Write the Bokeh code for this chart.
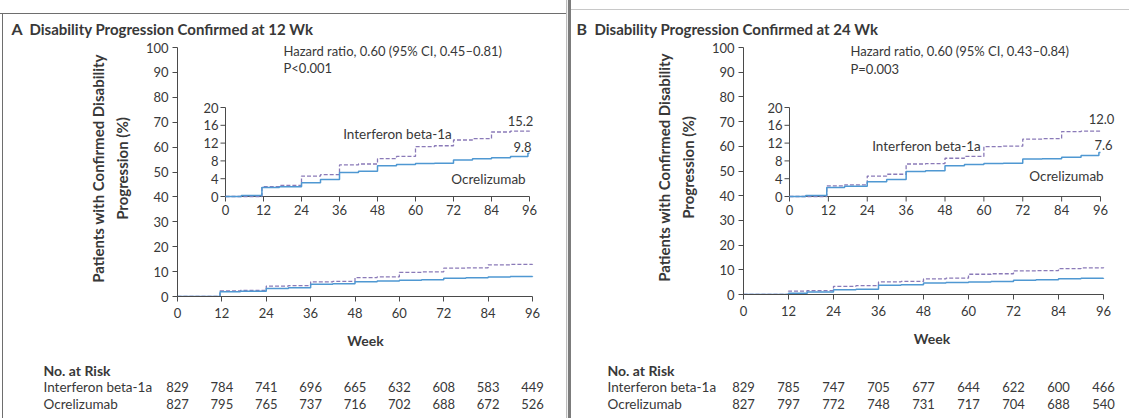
from bokeh.plotting import figure
from bokeh.models import Range1d, FixedTicker, Label, Div
from bokeh.layouts import row, column
from bokeh.embed import file_html
from bokeh.resources import INLINE

# ---------------- data ----------------
WEEK_TICKS = [0, 12, 24, 36, 48, 60, 72, 84, 96]
MAIN_Y_TICKS = [0, 10, 20, 30, 40, 50, 60, 70, 80, 90, 100]
INSET_Y_TICKS = [0, 4, 8, 12, 16, 20]

# Panel A, main plot (percent)
a_main_t = [0, 11.5, 17, 24, 30, 36, 42, 48, 54, 60, 66, 72, 78, 84, 90, 96]
a_main_ifn = [0, 2.2, 2.4, 4.2, 4.4, 5.9, 6.1, 7.6, 7.9, 9.7, 9.9, 11.4, 11.5, 12.7, 12.9, 13.0]
a_main_ocr = [0, 1.9, 2.1, 3.2, 3.5, 4.9, 5.1, 5.9, 6.2, 6.5, 6.7, 7.3, 7.5, 7.8, 8.0, 8.1]

# Panel B, main plot (percent)
b_main_t = [0, 12, 17, 24, 30, 36, 42, 48, 54, 60, 66, 72, 78, 84, 90, 96]
b_main_ifn = [0, 1.4, 1.6, 3.3, 3.6, 5.1, 5.3, 6.3, 6.6, 8.2, 8.4, 9.6, 9.7, 10.5, 10.8, 11.0]
b_main_ocr = [0, 0.5, 1.0, 1.9, 2.1, 3.7, 3.9, 4.7, 4.9, 5.1, 5.3, 5.8, 6.0, 6.4, 6.6, 6.7]

# Insets (0-20 %)
inset_ifn_t = [0, 11.5, 17, 24, 30, 36, 42, 48, 54, 60, 66, 72, 78, 84, 90, 96]
a_inset_ifn = [0, 2.2, 2.5, 4.6, 4.9, 7.1, 7.3, 8.5, 9.0, 11.2, 11.4, 12.7, 13.0, 14.5, 14.7, 14.8]
b_inset_ifn = [0, 2.4, 2.6, 4.6, 5.0, 7.3, 7.4, 8.6, 9.0, 11.2, 11.3, 12.9, 13.0, 14.6, 14.7, 14.8]
inset_ocr_t = [0, 5, 11.5, 17, 24, 30, 36, 42, 48, 54, 60, 66, 72, 78, 84, 90, 95.5, 96]
a_inset_ocr = [0, 0.2, 2.0, 2.2, 3.1, 3.8, 5.4, 5.7, 6.9, 7.2, 7.4, 7.5, 8.2, 8.5, 8.7, 9.0, 9.7, 9.7]
b_inset_ocr = [0, 0.2, 2.0, 2.3, 3.3, 3.8, 5.6, 5.8, 6.9, 7.2, 7.4, 7.5, 8.4, 8.5, 8.8, 9.2, 9.9, 9.9]

# No. at risk
a_risk_ifn = [829, 784, 741, 696, 665, 632, 608, 583, 449]
a_risk_ocr = [827, 795, 765, 737, 716, 702, 688, 672, 526]
b_risk_ifn = [829, 785, 747, 705, 677, 644, 622, 600, 466]
b_risk_ocr = [827, 797, 772, 748, 731, 717, 704, 688, 540]

a_final = ["15.2", "9.8"]
b_final = ["12.0", "7.6"]

FONT = "Lato"
TXT = "#383838"
AX = "#4a4a4a"
IFN_COLOR = "#8a7ab8"
OCR_COLOR = "#4f98d2"
FS = "13px"       # numbers / tick labels
FS_TXT = "13.5px"  # regular words


def bare_fig(W, H, xr, yr):
    f = figure(width=W, height=H, output_backend="svg", toolbar_location=None,
               x_range=xr, y_range=yr, x_axis_type=None, y_axis_type=None,
               min_border=0, min_border_left=0, min_border_right=0,
               min_border_top=0, min_border_bottom=0, frame_align=False)
    f.outline_line_color = None
    f.xgrid.visible = False
    f.ygrid.visible = False
    return f


def add_label(f, x, y, text, size=FS, bold=False, align="left", baseline="middle",
              xr="default", yr="default"):
    f.add_layout(Label(x=x, y=y, text=text, text_font=FONT, text_font_size=size,
                       text_font_style="bold" if bold else "normal",
                       text_align=align, text_baseline=baseline,
                       text_color=TXT, x_range_name=xr, y_range_name=yr))


def make_panel(cfg):
    L, W = cfg["left"], cfg["W"]
    top, main_top, table_top, bottom = cfg["bands"]
    fx0, fx1, fxr = cfg["frame_x"]       # page x of week 0, week 96, frame right
    fy0, fy1 = cfg["frame_y"]            # page y of 100 and 0
    sx = (fx1 - fx0) / 96.0
    sy = (fy1 - fy0) / 100.0

    def dx(px):
        return (px - fx0) / sx

    def dy(py):
        return (fy1 - py) / sy

    # ---- header (title) ----
    hdr = bare_fig(W, main_top - top, Range1d(L, L + W), Range1d(main_top, top))
    tx, ty = cfg["title_pos"]
    add_label(hdr, tx, ty, cfg["letter"], size="16px", bold=True)
    add_label(hdr, tx + 18, ty, cfg["title"], size="15px", bold=True)

    # ---- main plot ----
    p = figure(width=W, height=table_top - main_top, output_backend="svg",
               toolbar_location=None, frame_align=False,
               x_range=Range1d(0, dx(fxr)), y_range=Range1d(0, dy(main_top)),
               min_border_left=fx0 - L, min_border_right=(L + W) - fxr,
               min_border_top=0, min_border_bottom=table_top - fy1)
    p.outline_line_color = None
    p.xgrid.visible = False
    p.ygrid.visible = False

    p.xaxis.ticker = FixedTicker(ticks=WEEK_TICKS)
    p.yaxis.ticker = FixedTicker(ticks=MAIN_Y_TICKS)
    p.xaxis.bounds = (WEEK_TICKS[0], WEEK_TICKS[-1])
    p.yaxis.bounds = (MAIN_Y_TICKS[0], MAIN_Y_TICKS[-1])
    p.xaxis.axis_label = "Week"
    p.yaxis.axis_label = "Patients with Confirmed Disability\nProgression (%)"
    for ax in (p.xaxis[0], p.yaxis[0]):
        ax.axis_line_color = AX
        ax.major_tick_line_color = AX
        ax.major_tick_out = 5
        ax.major_tick_in = 0
        ax.minor_tick_line_color = None
        ax.major_label_text_font = FONT
        ax.major_label_text_font_size = FS
        ax.major_label_text_color = TXT
        ax.axis_label_text_font = FONT
        ax.axis_label_text_font_style = "bold"
        ax.axis_label_text_color = TXT
    p.xaxis.axis_label_text_font_size = "14px"
    p.yaxis.axis_label_text_font_size = "15px"
    p.yaxis.axis_label_text_line_height = 1.35
    p.xaxis.major_label_standoff = 6
    p.xaxis.axis_label_standoff = 11
    p.yaxis.major_label_standoff = 4
    p.yaxis.axis_label_standoff = 12

    p.step(cfg["main_t"], cfg["main_ifn"], mode="after", line_color=IFN_COLOR,
           line_width=1.3, line_dash="4 2")
    p.step(cfg["main_t"], cfg["main_ocr"], mode="after", line_color=OCR_COLOR,
           line_width=1.5)

    # inset ranges
    ix0, ix1 = cfg["inset_x"]
    iy0, iy1 = cfg["inset_y"]
    isx = (ix1 - ix0) / 96.0
    isy = (iy1 - iy0) / 20.0
    p.extra_x_ranges = {"ix": Range1d((fx0 - ix0) / isx, (fxr - ix0) / isx)}
    p.extra_y_ranges = {"iy": Range1d((iy1 - fy1) / isy, (iy1 - main_top) / isy)}

    xmax = WEEK_TICKS[-1]
    ymax = INSET_Y_TICKS[-1]
    p.segment(x0=[0, 0], y0=[0, 0], x1=[xmax, 0], y1=[0, ymax], line_color=AX,
              line_width=1, x_range_name="ix", y_range_name="iy")
    tl = 5
    p.segment(x0=WEEK_TICKS, y0=[0] * len(WEEK_TICKS), x1=WEEK_TICKS,
              y1=[-tl / isy] * len(WEEK_TICKS), line_color=AX,
              x_range_name="ix", y_range_name="iy")
    p.segment(x0=[0] * len(INSET_Y_TICKS), y0=INSET_Y_TICKS,
              x1=[-tl / isx] * len(INSET_Y_TICKS), y1=INSET_Y_TICKS, line_color=AX,
              x_range_name="ix", y_range_name="iy")
    p.step(cfg["inset_ifn_t"], cfg["inset_ifn"], mode="after", line_color=IFN_COLOR,
           line_width=1.3, line_dash="4 2", x_range_name="ix", y_range_name="iy")
    p.step(cfg["inset_ocr_t"], cfg["inset_ocr"], mode="after", line_color=OCR_COLOR,
           line_width=1.5, x_range_name="ix", y_range_name="iy")

    for t in WEEK_TICKS:
        add_label(p, t, -(tl + 8) / isy, str(t), align="center", xr="ix", yr="iy")
    for v in INSET_Y_TICKS:
        add_label(p, -(tl + 2) / isx, v, str(v), align="right", xr="ix", yr="iy")

    hx, hy1, hy2 = cfg["hazard_pos"]
    add_label(p, dx(hx), dy(hy1), cfg["hazard"])
    add_label(p, dx(hx), dy(hy2), cfg["pval"])
    for (text, (px, py)) in cfg["inset_labels"]:
        sz = FS if text[0].isdigit() else FS_TXT
        add_label(p, dx(px), dy(py), text, size=sz, align="center")

    # ---- risk table ----
    r0, rstep = cfg["risk_rows"]        # page y of first row and row spacing
    # rows: 0 = header, 1 = interferon, 2 = ocrelizumab (drawn downward)
    tbl = bare_fig(W, bottom - table_top,
                   Range1d(dx(L), dx(L + W)),
                   Range1d((bottom - r0) / rstep, -(r0 - table_top) / rstep))
    rx = dx(cfg["risk_x"])
    add_label(tbl, rx, 0, "No. at Risk", size="14px", bold=True)
    add_label(tbl, rx, 1, "Interferon beta-1a", size=FS_TXT)
    add_label(tbl, rx, 2, "Ocrelizumab", size=FS_TXT)
    for t, a, b in zip(WEEK_TICKS, cfg["risk_ifn"], cfg["risk_ocr"]):
        add_label(tbl, t, 1, str(a), align="center")
        add_label(tbl, t, 2, str(b), align="center")

    return column(hdr, p, tbl, spacing=0)


TOTAL_H = 418

cfgA = dict(left=3, W=563, bands=(14, 40, 356, TOTAL_H),
            frame_x=(177, 532, 553), frame_y=(47, 296),
            inset_x=(225, 529), inset_y=(107, 196),
            main_t=a_main_t, main_ifn=a_main_ifn, main_ocr=a_main_ocr,
            inset_ifn_t=inset_ifn_t, inset_ifn=a_inset_ifn,
            inset_ocr_t=inset_ocr_t, inset_ocr=a_inset_ocr,
            letter="A", title="Disability Progression Confirmed at 12 Wk", title_pos=(11, 28),
            hazard="Hazard ratio, 0.60 (95% CI, 0.45\u20130.81)", pval="P<0.001",
            hazard_pos=(283, 50, 67),
            inset_labels=[("Interferon beta-1a", (397, 133)), ("Ocrelizumab", (488, 178)),
                          (a_final[0], (520, 120)), (a_final[1], (522, 146))],
            risk_x=43, risk_rows=(370, 16.5), risk_ifn=a_risk_ifn, risk_ocr=a_risk_ocr)

cfgB = dict(left=571, W=558, bands=(10, 40, 356, TOTAL_H),
            frame_x=(743, 1103, 1120), frame_y=(47, 294),
            inset_x=(789, 1100), inset_y=(107, 196),
            main_t=b_main_t, main_ifn=b_main_ifn, main_ocr=b_main_ocr,
            inset_ifn_t=inset_ifn_t, inset_ifn=b_inset_ifn,
            inset_ocr_t=inset_ocr_t, inset_ocr=b_inset_ocr,
            letter="B", title="Disability Progression Confirmed at 24 Wk", title_pos=(576, 28),
            hazard="Hazard ratio, 0.60 (95% CI, 0.43\u20130.84)", pval="P=0.003",
            hazard_pos=(850, 50, 68),
            inset_labels=[("Interferon beta-1a", (926, 145)), ("Ocrelizumab", (1066, 175)),
                          (b_final[0], (1101, 118)), (b_final[1], (1103, 144))],
            risk_x=607, risk_rows=(370, 16.5), risk_ifn=b_risk_ifn, risk_ocr=b_risk_ocr)

panelA = make_panel(cfgA)
panelB = make_panel(cfgB)

LINE_A = "#6e6e6e"
colA = column(
    Div(width=566, height=13, margin=0),
    Div(width=566, height=1, margin=0, styles={"background-color": LINE_A}),
    row(Div(width=2, height=TOTAL_H - 14, margin=0),
        Div(width=1, height=TOTAL_H - 14, margin=0, styles={"background-color": LINE_A}),
        panelA, spacing=0),
    spacing=0)
divider = Div(width=5, height=TOTAL_H, margin=0,
              styles={"background": "linear-gradient(to right, #bdbdbd 0px, #bdbdbd 1px, #f0f0f0 1px, #f0f0f0 2px, #7c7c7c 2px, #7c7c7c 5px)"})
colB = column(
    Div(width=558, height=9, margin=0),
    Div(width=558, height=1, margin=0, styles={"background-color": "#c8c8c8"}),
    panelB, spacing=0)
layout = row(colA, divider, colB, spacing=0)

open("out.html", "w").write(file_html(layout, INLINE, "Disability progression"))
